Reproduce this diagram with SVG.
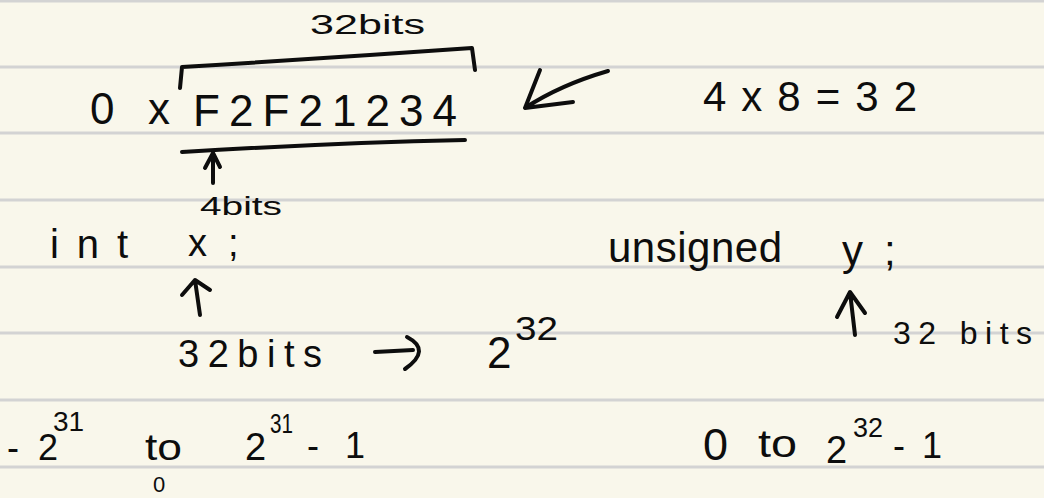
<svg xmlns="http://www.w3.org/2000/svg" width="1044" height="498" viewBox="0 0 1044 498">
<style>
.bg{fill:#F9F7EB}
.rule{stroke:#D3D3D3;stroke-width:3}
text{font-family:"Liberation Sans","DejaVu Sans",sans-serif;fill:#0d0d0d}
.ink{fill:none;stroke:#0d0d0d;stroke-width:4;stroke-linecap:round;stroke-linejoin:round}
</style>
<rect class="bg" width="1044" height="498"/>
<g id="paper-lines">
<line class="rule" x1="0" y1="1" x2="1044" y2="1"/>
<line class="rule" x1="0" y1="67" x2="1044" y2="67"/>
<line class="rule" x1="0" y1="133" x2="1044" y2="133"/>
<line class="rule" x1="0" y1="200" x2="1044" y2="200"/>
<line class="rule" x1="0" y1="267" x2="1044" y2="267"/>
<line class="rule" x1="0" y1="333" x2="1044" y2="333"/>
<line class="rule" x1="0" y1="400" x2="1044" y2="400"/>
<line class="rule" x1="0" y1="467" x2="1044" y2="467"/>
</g>
<g id="hex-value">
<text x="310" y="34" font-size="28" textLength="115" lengthAdjust="spacingAndGlyphs">32bits</text>
<text x="90" y="124" font-size="44" textLength="80" lengthAdjust="spacing">0x</text>
<text x="193" y="126" font-size="44" textLength="264" lengthAdjust="spacing">F2F21234</text>
<text x="200" y="215" font-size="26" textLength="82" lengthAdjust="spacingAndGlyphs">4bits</text>
</g>
<g id="calc">
<text x="703" y="111" font-size="42" textLength="214" lengthAdjust="spacing">4x8=32</text>
</g>
<g id="int-decl">
<text x="50" y="258" font-size="40" textLength="78" lengthAdjust="spacing">int</text>
<text x="188 228" y="256" font-size="38">x;</text>
</g>
<g id="unsigned-decl">
<text x="608" y="262" font-size="42" textLength="174" lengthAdjust="spacing">unsigned</text>
<text x="842 884" y="265" font-size="42">y;</text>
</g>
<g id="int-bits">
<text x="178" y="367" font-size="38" textLength="144" lengthAdjust="spacing">32bits</text>
<text x="487" y="368" font-size="44">2</text>
<text x="515" y="340" font-size="34" textLength="43" lengthAdjust="spacingAndGlyphs">32</text>
</g>
<g id="unsigned-bits">
<text x="893" y="344" font-size="32" textLength="139" lengthAdjust="spacing">32 bits</text>
</g>
<g id="int-range">
<text x="7" y="460" font-size="36" textLength="51" lengthAdjust="spacing">-2</text>
<text x="53" y="431" font-size="28">31</text>
<text x="145" y="460" font-size="36" textLength="37" lengthAdjust="spacingAndGlyphs">to</text>
<text x="153" y="492" font-size="22">0</text>
<text x="245" y="460" font-size="38">2</text>
<text x="270" y="433" font-size="28" textLength="23" lengthAdjust="spacingAndGlyphs">31</text>
<text x="307" y="458" font-size="36" textLength="58" lengthAdjust="spacing">- 1</text>
</g>
<g id="unsigned-range">
<text x="703" y="460" font-size="45">0</text>
<text x="758" y="457" font-size="38" textLength="39" lengthAdjust="spacingAndGlyphs">to</text>
<text x="826" y="463" font-size="38">2</text>
<text x="853" y="437" font-size="28" textLength="30" lengthAdjust="spacingAndGlyphs">32</text>
<text x="893" y="458" font-size="36" textLength="49" lengthAdjust="spacing">- 1</text>
</g>
<g id="connectors">
<path class="ink" d="M180 88 L182 67 Q330 58 472 48 L475 70"/>
<path class="ink" d="M182 152 Q330 143 465 140"/>
<path class="ink" d="M213 183 L213 153 M205 168 L213 153 L220 167"/>
<path class="ink" d="M608 71 Q560 85 525 108 M540 70 L525 108 L573 102"/>
<path class="ink" d="M200 315 L195 280 M182 295 L195 280 L210 290"/>
<path class="ink" d="M855 335 L850 292 M837 317 L850 292 L865 313"/>
<path class="ink" d="M375 352 L413 350 M407 337 Q432 350 405 369"/>
</g>
</svg>
